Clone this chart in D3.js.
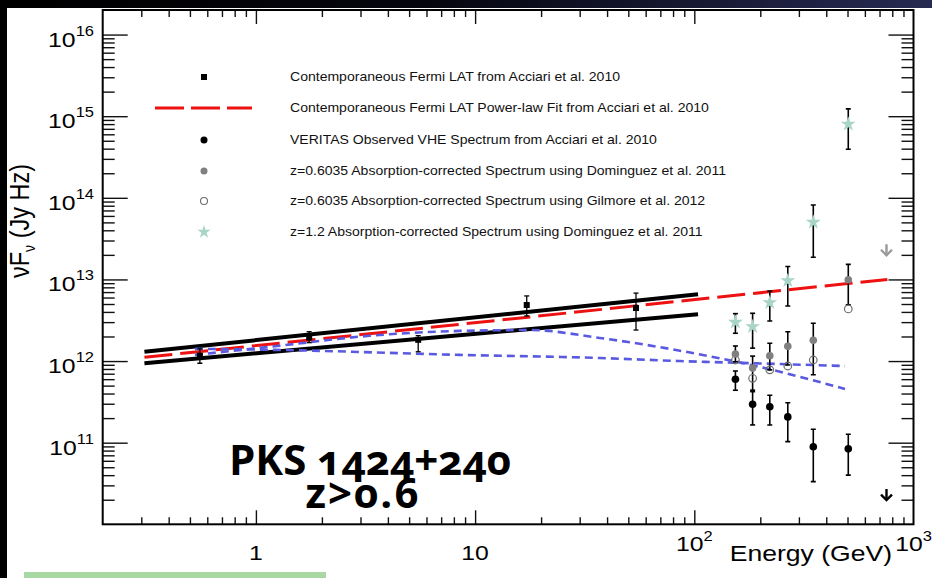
<!DOCTYPE html>
<html><head><meta charset="utf-8">
<script src="https://cdn.jsdelivr.net/npm/d3@7"></script>
<style>
html,body{margin:0;padding:0;background:#fff;}
svg{display:block;}
text{font-family:"Liberation Sans",Arial,Helvetica,sans-serif;}
.src{font-family:"Open Sans","Noto Sans",sans-serif;font-weight:bold;font-variant-numeric:oldstyle-nums;font-feature-settings:"onum" 1;}
</style></head><body>
<svg id="chart" width="932" height="578"></svg>
<script>
// ---- Fermi LAT points (GeV, Jy Hz) ----
const fermiE  = [0.555, 1.75, 5.5, 17.2, 54.2];
const fermiF  = [1.16e12, 1.94e12, 1.82e12, 4.86e12, 4.47e12];
const fermiLo = [9.4e11, 1.68e12, 1.30e12, 3.57e12, 2.40e12];
const fermiHi = [1.41e12, 2.29e12, 2.05e12, 6.28e12, 6.80e12];

// ---- VHE energy bins ----
const vheE = [154, 184.5, 221, 267, 349, 504];
// VERITAS observed
const veritasF  = [5.98e11, 2.96e11, 2.76e11, 2.07e11, 8.9e10, 8.4e10];
const veritasLo = [4.39e11, 1.65e11, 1.65e11, 1.03e11, 3.33e10, 4.0e10];
const veritasHi = [7.55e11, 4.22e11, 3.81e11, 3.09e11, 1.46e11, 1.27e11];
// z=0.6035, Dominguez et al. 2011
const domF  = [1.22e12, 8.2e11, 1.16e12, 1.52e12, 1.80e12, 9.9e12];
const domLo = [9.8e11, 4.4e11, 7.8e11, 8.95e11, 6.8e11, 4.9e12];
const domHi = [1.53e12, 1.15e12, 1.65e12, 2.29e12, 2.9e12, 1.53e13];
// z=0.6035, Gilmore et al. 2012
const gilF = [1.03e12, 6.15e11, 7.8e11, 8.7e11, 1.03e12, 4.35e12];
// z=1.2, Dominguez et al. 2011
const starF  = [2.99e12, 2.64e12, 5.2e12, 9.66e12, 5.02e13, 7.98e14];
const starLo = [2.19e12, 1.44e12, 3.10e12, 4.73e12, 1.87e13, 3.94e14];
const starHi = [3.81e12, 3.85e12, 7.23e12, 1.44e13, 8.18e13, 1.23e15];

// upper limits
const ulE = 753;
const ulGrayF = 2.7e13;
const ulBlackF = 2.7e10;

// power-law fit and its butterfly bounds
const fitE = [0.31, 760];
const fitF = [1.11e12, 1.0e13];
const bowE = [0.31, 104];
const bowUpF = [1.30e12, 6.6e12];
const bowLoF = [9.4e11, 3.75e12];

// model curves
const curveAE = [0.527, 1.25, 3.3, 8.5, 17.8, 37, 86, 198, 487];
const curveAF = [1.19e12, 1.53e12, 2.04e12, 2.34e12, 2.40e12, 1.92e12, 1.34e12, 8.5e11, 4.55e11];
const curveBE = [0.527, 1.25, 8.5, 37, 86, 198, 487];
const curveBF = [1.41e12, 1.37e12, 1.19e12, 1.09e12, 1.0e12, 9.35e11, 8.7e11];

// axis ticks
const xMajor = [1, 10, 100, 1000];
const xLabels = ["1", "10", "10|2", "10|3"];
const yMajor = [1e11, 1e12, 1e13, 1e14, 1e15, 1e16];
const yLabels = ["10|11", "10|12", "10|13", "10|14", "10|15", "10|16"];

const legendLabels = [
  "Contemporaneous Fermi LAT from Acciari et al. 2010",
  "Contemporaneous Fermi LAT Power-law Fit from Acciari et al. 2010",
  "VERITAS Observed VHE Spectrum from Acciari et al. 2010",
  "z=0.6035 Absorption-corrected Spectrum using Dominguez et al. 2011",
  "z=0.6035 Absorption-corrected Spectrum using Gilmore et al. 2012",
  "z=1.2 Absorption-corrected Spectrum using Dominguez et al. 2011"
];

const sourceLines = ["PKS 1424+240", "z>0.6"];

const SX = 1.18; // horizontal text stretch
const svg = d3.select("#chart");

// page decoration
const defs = svg.append("defs");
const grad = defs.append("linearGradient").attr("id", "topbar");
grad.append("stop").attr("offset", "0%").attr("stop-color", "#000");
grad.append("stop").attr("offset", "45%").attr("stop-color", "#05050d");
grad.append("stop").attr("offset", "100%").attr("stop-color", "#262a52");
svg.append("rect").attr("x", 0).attr("y", 0).attr("width", 932).attr("height", 8).attr("fill", "url(#topbar)");
svg.append("rect").attr("x", 0).attr("y", 0).attr("width", 7).attr("height", 578).attr("fill", "#000");
svg.append("rect").attr("x", 24).attr("y", 572).attr("width", 302).attr("height", 6).attr("fill", "#a8d9a2");

const L = 102.7, R = 913.5, T = 10, B = 524.3;
const x = d3.scaleLog().domain([0.2, 1000]).range([L, R]);
const y = d3.scaleLog().domain([1e10, 2e16]).range([B, T]);

// tick positions
const xMinor = [];
[0.1, 1, 10, 100].forEach(d => { for (let k = 2; k <= 9; k++) { const v = d * k; if (v > 0.2 && v < 1000) xMinor.push(v); } });
const yMinor = [];
for (let p = 10; p <= 15; p++) for (let k = 2; k <= 9; k++) yMinor.push(k * Math.pow(10, p));

function tickAxis(axis, transform) {
  const g = svg.append("g").attr("transform", transform).call(axis);
  g.select(".domain").remove();
  g.selectAll(".tick line").attr("stroke", "#111").attr("stroke-width", 1.4);
  g.selectAll("text").remove();
  return g;
}
tickAxis(d3.axisBottom(x).tickValues(xMajor.filter(v => v < 1000)).tickSize(-14).tickFormat(""), `translate(0,${B})`);
tickAxis(d3.axisBottom(x).tickValues(xMinor).tickSize(-7).tickFormat(""), `translate(0,${B})`);
tickAxis(d3.axisTop(x).tickValues(xMajor.filter(v => v < 1000)).tickSize(-14).tickFormat(""), `translate(0,${T})`);
tickAxis(d3.axisTop(x).tickValues(xMinor).tickSize(-7).tickFormat(""), `translate(0,${T})`);
tickAxis(d3.axisLeft(y).tickValues(yMajor).tickSize(-25).tickFormat(""), `translate(${L},0)`);
tickAxis(d3.axisLeft(y).tickValues(yMinor).tickSize(-12).tickFormat(""), `translate(${L},0)`);
tickAxis(d3.axisRight(y).tickValues(yMajor).tickSize(-25).tickFormat(""), `translate(${R},0)`);
tickAxis(d3.axisRight(y).tickValues(yMinor).tickSize(-12).tickFormat(""), `translate(${R},0)`);

svg.append("rect").attr("x", L).attr("y", T).attr("width", R - L).attr("height", B - T)
  .attr("fill", "none").attr("stroke", "#000").attr("stroke-width", 2);

// text helper: base with optional superscript, stretched horizontally
function powText(px, py, lab, anchor, size, supSize, supRise) {
  const [base, sup] = lab.split("|");
  const t = svg.append("text").attr("transform", `translate(${px},${py}) scale(${SX},1)`)
    .attr("text-anchor", anchor).attr("font-size", size).attr("fill", "#000");
  t.append("tspan").text(base);
  if (sup) t.append("tspan").attr("dy", -supRise).attr("font-size", supSize).text(sup);
  return t;
}
xMajor.forEach((v, i) => {
  const lab = xLabels[i];
  const hasSup = lab.includes("|");
  powText(x(v), hasSup ? 551 : 560, lab, "middle", 21, 14, 10);
});
yMajor.forEach((v, i) => powText(94, y(v) + 12, yLabels[i], "end", 21, 14, 11));

svg.append("text").attr("transform", `translate(892,561) scale(${SX},1)`).attr("text-anchor", "end")
  .attr("font-size", 22.5).text("Energy (GeV)");

const yt = svg.append("text").attr("transform", `translate(29,221) scale(${SX},1) rotate(-90)`)
  .attr("text-anchor", "middle").attr("font-size", 23.5);
yt.append("tspan").text("νF");
yt.append("tspan").attr("font-size", 14).attr("dy", 5).text("ν");
yt.append("tspan").attr("dy", -5).text(" (Jy Hz)");

// clip for plot area
defs.append("clipPath").attr("id", "plotclip").append("rect")
  .attr("x", L).attr("y", T).attr("width", R - L).attr("height", B - T);
const plot = svg.append("g").attr("clip-path", "url(#plotclip)");

const line = d3.line().x(d => x(d[0])).y(d => y(d[1]));
const smooth = d3.line().x(d => x(d[0])).y(d => y(d[1])).curve(d3.curveMonotoneX);

// butterfly bounds
plot.append("path").attr("d", line(d3.zip(bowE, bowUpF))).attr("stroke", "#000").attr("stroke-width", 4).attr("fill", "none");
plot.append("path").attr("d", line(d3.zip(bowE, bowLoF))).attr("stroke", "#000").attr("stroke-width", 4).attr("fill", "none");
// power-law fit
plot.append("path").attr("d", line(d3.zip(fitE, fitF))).attr("stroke", "#ee1111").attr("stroke-width", 3)
  .attr("stroke-dasharray", "28,8").attr("fill", "none");
// model curves
[[curveAE, curveAF], [curveBE, curveBF]].forEach(([e, f]) => {
  plot.append("path").attr("d", smooth(d3.zip(e, f))).attr("stroke", "#5a5ae0").attr("stroke-width", 2.6)
    .attr("stroke-dasharray", "8,5").attr("fill", "none");
});

// error bars
function errBars(E, lo, hi, w, cap) {
  E.forEach((e, i) => {
    const cx = x(e), y1 = y(lo[i]), y2 = y(hi[i]);
    plot.append("line").attr("x1", cx).attr("x2", cx).attr("y1", y1).attr("y2", y2).attr("stroke", "#000").attr("stroke-width", w);
    [y1, y2].forEach(yy => plot.append("line").attr("x1", cx - cap).attr("x2", cx + cap).attr("y1", yy).attr("y2", yy)
      .attr("stroke", "#000").attr("stroke-width", w));
  });
}
errBars(fermiE, fermiLo, fermiHi, 1.3, 2.5);
errBars(vheE, starLo, starHi, 1.6, 2.5);
errBars(vheE, domLo, domHi, 1.6, 2.5);
errBars(vheE, veritasLo, veritasHi, 1.6, 2.5);

const star = d3.symbol().type(d3.symbolStar).size(70);
// markers
fermiE.forEach((e, i) => plot.append("rect").attr("x", x(e) - 3).attr("y", y(fermiF[i]) - 3).attr("width", 6).attr("height", 6).attr("fill", "#000"));
vheE.forEach((e, i) => plot.append("path").attr("d", star()).attr("transform", `translate(${x(e)},${y(starF[i])})`).attr("fill", "#a9d4c8"));
vheE.forEach((e, i) => plot.append("circle").attr("cx", x(e)).attr("cy", y(gilF[i])).attr("r", 3.8).attr("fill", "none").attr("stroke", "#6e6e6e").attr("stroke-width", 1.2));
vheE.forEach((e, i) => plot.append("circle").attr("cx", x(e)).attr("cy", y(domF[i])).attr("r", 3.8).attr("fill", "#808080"));
vheE.forEach((e, i) => plot.append("circle").attr("cx", x(e)).attr("cy", y(veritasF[i])).attr("r", 3.8).attr("fill", "#000"));

// upper-limit arrows
function arrow(e, f, col) {
  const cx = x(e), y0 = y(f), y1 = y0 + 11;
  plot.append("line").attr("x1", cx).attr("x2", cx).attr("y1", y0).attr("y2", y1).attr("stroke", col).attr("stroke-width", 2.4);
  plot.append("path").attr("d", `M${cx - 5.5},${y1 - 5.5}L${cx},${y1}L${cx + 5.5},${y1 - 5.5}`).attr("stroke", col)
    .attr("stroke-width", 2.4).attr("fill", "none");
}
arrow(ulE, ulGrayF, "#9a9a9a");
arrow(ulE, ulBlackF, "#000");

// legend
const legX = 204, legTextX = 290;
const legY = [77, 108, 140, 171, 201, 232];
const lg = svg.append("g");
lg.append("rect").attr("x", legX - 3).attr("y", legY[0] - 3).attr("width", 6).attr("height", 6).attr("fill", "#000");
lg.append("line").attr("x1", 155).attr("x2", 252).attr("y1", legY[1]).attr("y2", legY[1]).attr("stroke", "#ee1111")
  .attr("stroke-width", 3).attr("stroke-dasharray", "29,7");
lg.append("circle").attr("cx", legX).attr("cy", legY[2]).attr("r", 3.5).attr("fill", "#000");
lg.append("circle").attr("cx", legX).attr("cy", legY[3]).attr("r", 3.5).attr("fill", "#808080");
lg.append("circle").attr("cx", legX).attr("cy", legY[4]).attr("r", 3.5).attr("fill", "none").attr("stroke", "#6e6e6e").attr("stroke-width", 1.1);
lg.append("path").attr("d", d3.symbol().type(d3.symbolStar).size(55)()).attr("transform", `translate(${legX},${legY[5]})`).attr("fill", "#a9d4c8");
legendLabels.forEach((s, i) => {
  lg.append("text").attr("transform", `translate(${legTextX},${legY[i] + 4}) scale(${SX},1)`)
    .attr("font-size", 11.9).attr("fill", "#111").text(s);
});

// source name, two lines in one label
const src = svg.append("text").attr("class", "src").attr("text-anchor", "middle").attr("font-size", 42);
src.append("tspan").attr("x", 370).attr("y", 475).text(sourceLines[0]);
src.append("tspan").attr("x", 363).attr("y", 508).attr("letter-spacing", 2).text(sourceLines[1]);
</script>
</body></html>
